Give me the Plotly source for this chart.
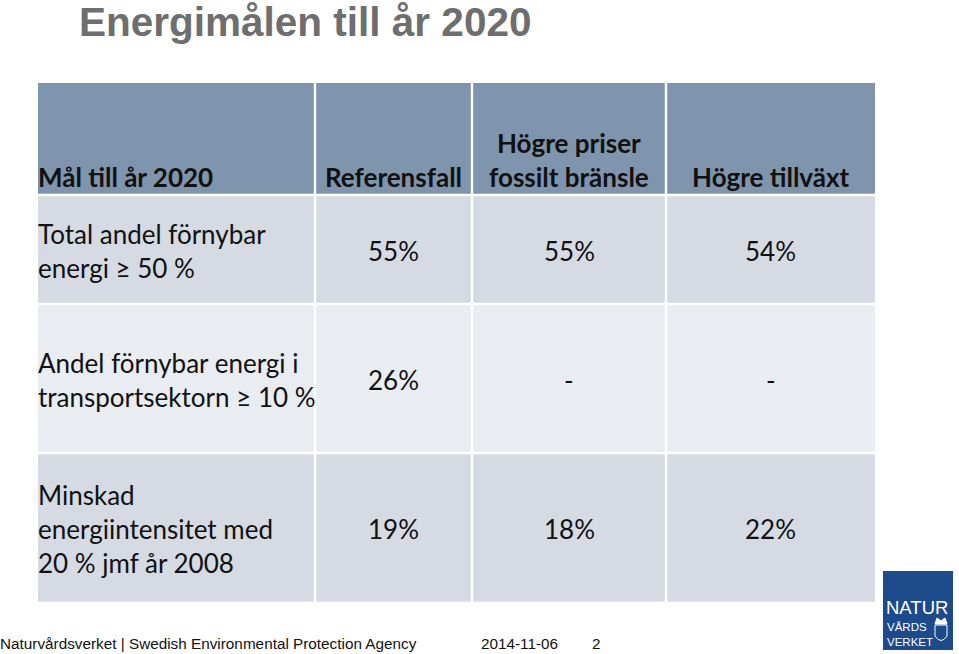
import plotly.graph_objects as go

# table content
headers = ["Mål till år 2020", "Referensfall", "Högre priser<br>fossilt bränsle", "Högre tillväxt"]
goals = ["Total andel förnybar<br>energi ≥ 50 %",
         "Andel förnybar energi i<br>transportsektorn ≥ 10 %",
         "Minskad<br>energiintensitet med<br>20 % jmf år 2008"]
referensfall = ["55%", "26%", "19%"]
hogre_priser = ["55%", "-", "18%"]
hogre_tillvaxt = ["54%", "-", "22%"]

title = "Energimålen till år 2020"
footer = "Naturvårdsverket | Swedish Environmental Protection Agency"
footer_date = "2014-11-06"
page_no = "2"

# layout in pixels
col_edges = [38, 315, 472, 666, 875]
row_edges = [83, 195, 304, 453, 603]
gap = 1.2
header_color = "#7f95ad"
row_colors = ["#d5dae3", "#e9ecf0", "#d5dae3"]
body_font = "Lato, Carlito, Open Sans, sans-serif"
arial = "Liberation Sans, Arial"

fig = go.Figure()
shapes = []
annotations = []


def label(x, y, text, size, color="#111111", family=body_font, xanchor="left", yanchor="middle",
          align="left", xshift=0):
    annotations.append(dict(x=x, y=y, xref="x", yref="y", text=text, showarrow=False,
                            xanchor=xanchor, yanchor=yanchor, align=align, xshift=xshift,
                            borderpad=0, font=dict(family=family, size=size, color=color)))


columns = [goals, referensfall, hogre_priser, hogre_tillvaxt]
n_rows = len(goals) + 1
for r in range(n_rows):
    y0, y1 = row_edges[r], row_edges[r + 1]
    fill = header_color if r == 0 else row_colors[r - 1]
    for c in range(len(headers)):
        x0, x1 = col_edges[c], col_edges[c + 1]
        shapes.append(dict(type="rect", xref="x", yref="y",
                           x0=x0 + (gap if c > 0 else 0), x1=x1 - (gap if c < 3 else 0),
                           y0=y0 + (gap if r > 0 else 0), y1=y1 - gap,
                           line=dict(width=0), fillcolor=fill, layer="below"))
        if r == 0:
            label(x0 - 1 if c == 0 else (x0 + x1) / 2, y1 - 1, "<b>" + headers[c] + "</b>", 26,
                  xanchor="left" if c == 0 else "center", yanchor="bottom", align="center")
        else:
            label(x0 - 1 if c == 0 else (x0 + x1) / 2, (y0 + y1) / 2 + 1, columns[c][r - 1], 26,
                  xanchor="left" if c == 0 else "center")

# title
label(78, 22, "<b>" + title + "</b>", 40.5, color="#6e6e6e", family=arial)

# footer
label(0, 643, footer, 15.3, family=arial, xshift=-1)
label(480, 643, footer_date, 15.3, family=arial)
label(591, 643, page_no, 15.3, family=arial)

# logo
shapes.append(dict(type="rect", xref="x", yref="y", x0=883, x1=953, y0=571, y1=650,
                   line=dict(width=0), fillcolor="#1d4a8a"))
label(917, 607, "NATUR", 18.5, color="white", family=arial, xanchor="center")
label(886, 634, "VÅRDS<br>VERKET", 11.5, color="white", family=arial)
shapes.append(dict(type="path", xref="x", yref="y",
                   path="M 935 625 L 947 625 L 947 636 Q 941 645 935 636 Z",
                   line=dict(width=1, color="white"), fillcolor="rgba(0,0,0,0)"))
shapes.append(dict(type="path", xref="x", yref="y",
                   path="M 935 624 L 937 618 L 941 621 L 945 618 L 947 624 Z",
                   line=dict(width=1, color="white"), fillcolor="white"))

fig.update_layout(
    width=959, height=654,
    margin=dict(l=0, r=0, t=0, b=0),
    paper_bgcolor="white", plot_bgcolor="white",
    xaxis=dict(range=[0, 959], visible=False, fixedrange=True),
    yaxis=dict(range=[654, 0], visible=False, fixedrange=True),
    shapes=shapes, annotations=annotations,
    showlegend=False,
)

fig.write_html("out.html", config={"displayModeBar": False},
               post_script="document.body.style.margin='0';")
